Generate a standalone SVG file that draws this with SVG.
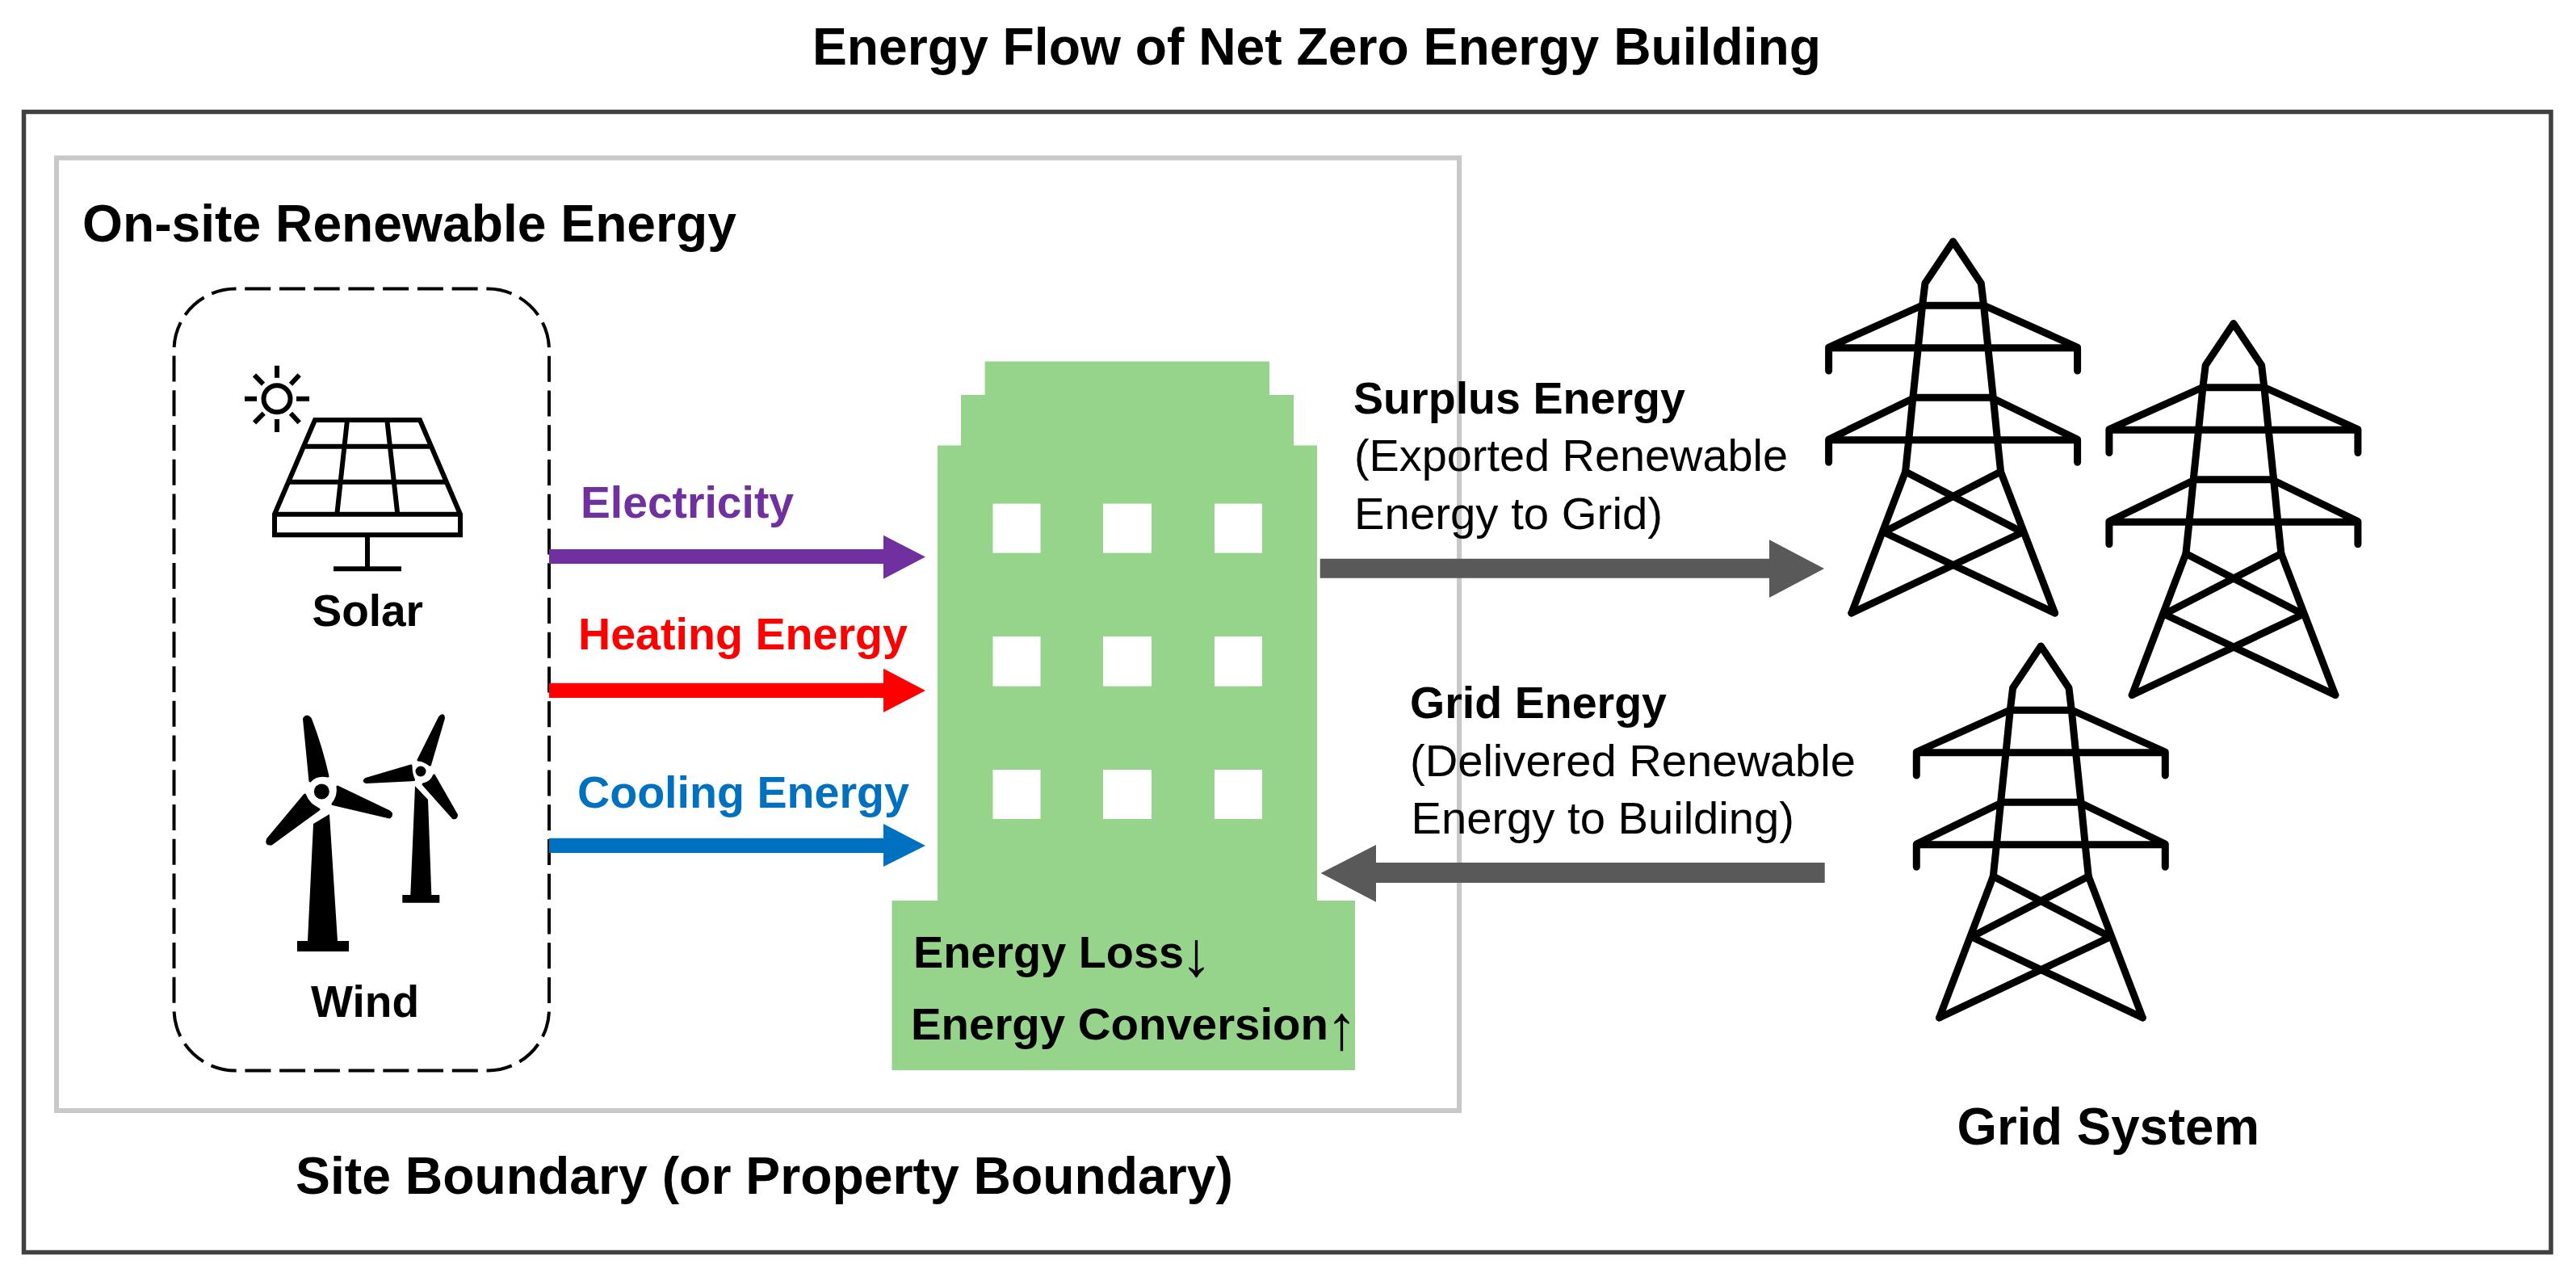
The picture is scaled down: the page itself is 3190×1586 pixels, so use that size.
<svg xmlns="http://www.w3.org/2000/svg" xmlns:xlink="http://www.w3.org/1999/xlink" width="3190" height="1586" viewBox="0 0 3190 1586">
<style>
text{font-family:"Liberation Sans",Arial,sans-serif;fill:#000}
.h{font-size:64px;font-weight:700}
.b{font-size:55px;font-weight:700}
.r{font-size:55px}
.arr{font-size:78px}
.ic{fill:none;stroke:#000;stroke-width:6}
.py{fill:none;stroke:#000;stroke-width:9;stroke-linecap:round;stroke-linejoin:round}
.win{fill:#fff}
.bl{stroke:#000;stroke-width:3;stroke-linejoin:round}
</style>
<defs>
<g id="pylon-shape" class="py">
<path d="M126 460L59 285L55 246.7L49.7 193.3L43.3 131.7L38 79.3L34.7 51.7L0 0L-34.7 51.7L-38 79.3L-43.3 131.7L-49.7 193.3L-55 246.7L-59 285L-125.7 460"/>
<path d="M126 460L-85.7 360M-125.7 460L86 360"/>
<path d="M-38 79.3H38M-49.7 193.3H49.7M-154 131.7H154M-154 245.7H154M-154 160V131L-38 79M154 160V131L38 79M-154 273.3V245L-51 195M154 273.3V245L51 195M-59 285L86 360M59 285L-86 360"/>
</g>
</defs>
<rect width="3190" height="1586" fill="#fff"/>
<g id="title"><text class="h" x="1006" y="80" textLength="1249" lengthAdjust="spacingAndGlyphs">Energy Flow of Net Zero Energy Building</text></g>
<g id="outer-frame"><rect x="29.5" y="138.5" width="3129.5" height="1412" fill="none" stroke="#404040" stroke-width="5.5"/></g>
<g id="site-boundary"><rect x="70" y="195.5" width="1737" height="1179.5" fill="none" stroke="#c8c8c8" stroke-width="6"/>
<text class="h" x="366" y="1478" textLength="1161" lengthAdjust="spacingAndGlyphs">Site Boundary (or Property Boundary)</text></g>
<g id="renewable-energy"><text class="h" x="102" y="299" textLength="810" lengthAdjust="spacingAndGlyphs">On-site Renewable Energy</text>
<rect x="215.5" y="357.5" width="464.5" height="968" rx="76" ry="76" fill="none" stroke="#000" stroke-width="4" stroke-dasharray="32 10.73" stroke-dashoffset="31"/></g>
<g id="solar">
<circle class="ic" cx="343" cy="493.7" r="16.5"/>
<path class="ic" d="M343 452.7V467.7M343 519V535M303 493.7H318M367 493.7H383M315 464.3L326 475.7M370.7 464.3L360 475.7M315 523.3L326.7 511.7M370.7 523.3L360 511.7"/>
<path class="ic" style="stroke-linejoin:miter" d="M390 520H520L570 636.7V662.3H340V636.7ZM340 636.7H570M376.2 552.7H533.8M357.3 596.7H552.7M430 520L417.3 636.7M479.3 520L492.3 636.7M455 662.3V704.3M413 704.3H497"/>
<text class="b" x="386.5" y="775" textLength="137.5" lengthAdjust="spacingAndGlyphs">Solar</text>
</g>
<g id="wind">
<path class="bl" d="M376.5 890Q380 884 384.5 890Q398 925 406 961Q392 958 384 967Z"/>
<path class="bl" d="M418 974L481.7 1004.5Q487 1008 482.5 1012L412 995.5Q420 985 418 974Z"/>
<path class="bl" d="M377.5 984Q382 996 395 1002L336 1045Q329 1046 331.5 1039Z"/>
<circle cx="398.3" cy="980" r="9.5"/>
<path d="M388 1020L408 1008L418 1165H432V1178H368V1165H381Z"/>
<path class="bl" d="M544.5 888Q549 883 549.5 889L532.5 947Q524 941 518 941Z"/>
<path class="bl" d="M509 948Q509 958 512.5 965.5L453.5 968.5Q449 967 453 964.5Z"/>
<path class="bl" d="M537.5 960L565.5 1009Q565 1014 561 1012.5L524 971Q534 969 537.5 960Z"/>
<circle cx="521" cy="955" r="6.5"/>
<path d="M514 973.3L530 990L534.3 1108H544.3V1117.7H498.3V1108H508.3Z"/>
<text class="b" x="385" y="1259" textLength="134" lengthAdjust="spacingAndGlyphs">Wind</text>
</g>
<g id="building">
<path fill="#97d48b" d="M1219.6 447.6H1572V489H1602V551.5H1631V1115H1678V1325H1104.5V1115H1161V551.5H1190V489H1219.6Z"/>
<rect class="win" x="1229.5" y="623.6" width="59" height="61"/><rect class="win" x="1366" y="623.6" width="60" height="61"/><rect class="win" x="1504" y="623.6" width="59" height="61"/>
<rect class="win" x="1229.5" y="788" width="59" height="61.6"/><rect class="win" x="1366" y="788" width="60" height="61.6"/><rect class="win" x="1504" y="788" width="59" height="61.6"/>
<rect class="win" x="1229.5" y="953" width="59" height="61"/><rect class="win" x="1366" y="953" width="60" height="61"/><rect class="win" x="1504" y="953" width="59" height="61"/>
<text class="b" x="1131" y="1197.5" textLength="335" lengthAdjust="spacingAndGlyphs">Energy Loss</text>
<text class="arr" x="1462" y="1208">↓</text>
<text class="b" x="1128" y="1287" textLength="517" lengthAdjust="spacingAndGlyphs">Energy Conversion</text>
<text class="arr" x="1642" y="1299">↑</text>
</g>
<g id="pylon-1"><use href="#pylon-shape" xlink:href="#pylon-shape" x="2418.6" y="299"/></g>
<g id="pylon-2"><use href="#pylon-shape" xlink:href="#pylon-shape" x="2765.9" y="400.5"/></g>
<g id="pylon-3"><use href="#pylon-shape" xlink:href="#pylon-shape" x="2527.3" y="800"/></g>
<g id="grid-label"><text class="h" x="2423.5" y="1417" textLength="374.5" lengthAdjust="spacingAndGlyphs">Grid System</text></g>
<g id="connectors">
<path fill="#7030a0" d="M680 680H1094V662.7L1146 689.5L1094 716.7V698H680Z"/>
<path fill="#ff0000" d="M680 845.7H1094V827.7L1146 855L1094 882V864H680Z"/>
<path fill="#0070c0" d="M680 1037.7H1094V1020L1146 1047L1094 1073V1056H680Z"/>
<path fill="#595959" d="M1634.7 691.7H2191V668.3L2259 704L2191 740V715.7H1634.7Z"/>
<path fill="#595959" d="M2259.7 1068H1704V1046L1635.6 1081L1704 1116.7V1093H2259.7Z"/>
</g>
<g id="flow-labels">
<text class="b" x="719" y="640.7" style="fill:#7030a0" textLength="264" lengthAdjust="spacingAndGlyphs">Electricity</text>
<text class="b" x="716" y="804" style="fill:#ff0000" textLength="408" lengthAdjust="spacingAndGlyphs">Heating Energy</text>
<text class="b" x="715" y="1000" style="fill:#0070c0" textLength="411" lengthAdjust="spacingAndGlyphs">Cooling Energy</text>
<text class="b" x="1676" y="511.7" textLength="411" lengthAdjust="spacingAndGlyphs">Surplus Energy</text>
<text class="r" x="1677" y="583" textLength="537" lengthAdjust="spacingAndGlyphs">(Exported Renewable</text>
<text class="r" x="1677" y="655" textLength="382" lengthAdjust="spacingAndGlyphs">Energy to Grid)</text>
<text class="b" x="1746" y="889" textLength="318" lengthAdjust="spacingAndGlyphs">Grid Energy</text>
<text class="r" x="1746" y="961" textLength="552" lengthAdjust="spacingAndGlyphs">(Delivered Renewable</text>
<text class="r" x="1747.5" y="1032" textLength="474.5" lengthAdjust="spacingAndGlyphs">Energy to Building)</text>
</g>
</svg>
